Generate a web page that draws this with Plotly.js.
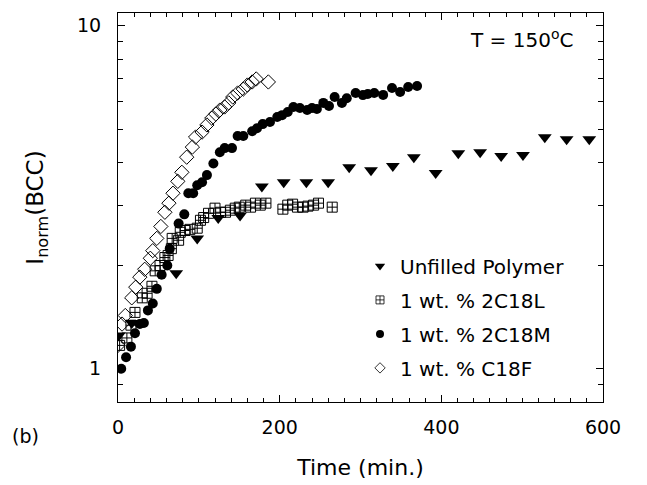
<!DOCTYPE html>
<html>
<head>
<meta charset="utf-8">
<script src="https://cdn.plot.ly/plotly-3.0.1.min.js"></script>
<style>html,body{margin:0;padding:0;background:#fff;}#chart{width:647px;height:485px;}</style>
</head>
<body>
<div id="chart"></div>
<script>
// ---- Data ----
const seriesNames = ["Unfilled Polymer", "1 wt. % 2C18L", "1 wt. % 2C18M", "1 wt. % C18F"];

const unfilledT = [1, 17, 72, 98, 124, 151, 178, 205, 233, 260, 286, 313, 340, 366, 393, 421, 448, 474, 501, 528, 555, 583];
const unfilledV = [1.25, 1.36, 1.90, 2.40, 2.75, 2.80, 3.40, 3.50, 3.50, 3.50, 3.87, 3.79, 3.90, 4.14, 3.72, 4.25, 4.28, 4.17, 4.20, 4.73, 4.67, 4.67];

const c2c18lT = [2, 11, 16, 21, 30, 36, 42, 46, 52, 58, 62, 66, 67, 75, 77, 83, 89, 98, 102, 106, 112, 120, 127, 133, 139, 145, 150, 158, 164, 170, 176, 183, 204, 210, 216, 222, 229, 235, 242, 248, 265];
const c2c18lV = [1.17, 1.23, 1.34, 1.46, 1.61, 1.66, 1.74, 1.93, 2.00, 2.11, 2.14, 2.24, 2.40, 2.37, 2.50, 2.53, 2.55, 2.57, 2.71, 2.76, 2.84, 2.94, 2.86, 2.86, 2.90, 2.94, 2.96, 3.00, 2.96, 3.04, 3.00, 3.04, 2.92, 3.00, 3.02, 2.96, 2.96, 2.98, 3.00, 3.04, 2.96];

const c2c18mT = [4, 10, 16, 21, 27, 32, 37, 43, 48, 54, 61, 64, 75, 82, 87, 93, 98, 104, 110, 118, 126, 132, 141, 148, 155, 166, 172, 179, 188, 197, 203, 210, 217, 225, 234, 240, 246, 254, 261, 268, 277, 283, 294, 303, 309, 317, 328, 339, 349, 359, 370];
const c2c18mV = [1.00, 1.08, 1.16, 1.27, 1.35, 1.36, 1.48, 1.55, 1.71, 1.88, 2.00, 2.24, 2.65, 2.82, 3.25, 3.25, 3.43, 3.50, 3.67, 3.97, 4.28, 4.40, 4.40, 4.77, 4.77, 4.93, 5.03, 5.17, 5.24, 5.42, 5.49, 5.61, 5.80, 5.76, 5.68, 5.76, 5.72, 5.96, 5.84, 6.20, 5.96, 6.15, 6.37, 6.28, 6.33, 6.37, 6.29, 6.59, 6.41, 6.63, 6.68];

const c18fT = [0, 5, 9, 17, 22, 27, 33, 40, 43, 48, 53, 58, 63, 68, 74, 79, 85, 92, 96, 104, 110, 116, 121, 126, 132, 137, 142, 148, 155, 160, 166, 171, 186];
const c18fV = [1.17, 1.35, 1.43, 1.61, 1.73, 1.85, 1.95, 2.10, 2.21, 2.40, 2.60, 2.86, 3.04, 3.25, 3.52, 3.74, 4.14, 4.43, 4.74, 4.90, 5.14, 5.38, 5.53, 5.68, 5.80, 5.96, 6.20, 6.37, 6.54, 6.72, 6.86, 7.00, 6.86];

const xTickVals = [0, 200, 400, 600];
const xTickText = ["0", "200", "400", "600"];
const yTickVals = [1, 10];
const yTickText = ["1", "10"];
const yMinorVals = [0.9, 2, 3, 4, 5, 6, 7, 8, 9];

// ---- Styles ----
const FONT = "DejaVu Sans, Liberation Sans, Arial, sans-serif";
const styles = [
  {symbol: "triangle-down", size: 12, color: "black", line: {width: 0}},
  {symbol: "square-cross-open", size: 10, color: "black", line: {width: 1, color: "black"}},
  {symbol: "circle", size: 10, color: "black", line: {width: 0}},
  {symbol: "diamond-open", size: 11, color: "black", line: {width: 1, color: "black"}}
];
const legendSizes = [9, 8, 8, 8];
const xs = [unfilledT, c2c18lT, c2c18mT, c18fT];
const ys = [unfilledV, c2c18lV, c2c18mV, c18fV];

const traces = [];
for (let i = 0; i < 4; i++) {
  traces.push({
    x: xs[i], y: ys[i], type: "scatter", mode: "markers", name: seriesNames[i],
    showlegend: false, marker: styles[i], hoverinfo: "x+y"
  });
}
// legend-only entries with the smaller symbols used in the reference legend
for (let i = 0; i < 4; i++) {
  traces.push({
    x: [null], y: [null], type: "scatter", mode: "markers", name: seriesNames[i],
    legendgroup: "g" + i, showlegend: true,
    marker: Object.assign({}, styles[i], {size: legendSizes[i], line: Object.assign({}, styles[i].line, {width: styles[i].line.width ? 0.8 : 0})})
  });
}

const layout = {
  width: 647, height: 485,
  margin: {l: 118, r: 44, t: 13, b: 83},
  paper_bgcolor: "white", plot_bgcolor: "white",
  font: {family: FONT, color: "black", size: 19},
  showlegend: true,
  legend: {
    x: 0.499, y: 0.40, xanchor: "left", yanchor: "top",
    bgcolor: "rgba(0,0,0,0)", borderwidth: 0,
    font: {family: FONT, size: 20, color: "black"},
    traceorder: "grouped", tracegroupgap: 5, itemwidth: 30
  },
  xaxis: {
    range: [0, 600], tickmode: "array", tickvals: xTickVals, ticktext: xTickText,
    ticks: "inside", ticklen: 7, tickwidth: 1, tickcolor: "black",
    minor: {tickmode: "linear", tick0: 0, dtick: 20, ticks: "inside", ticklen: 4, tickcolor: "black", tickwidth: 1},
    showline: true, linecolor: "black", linewidth: 1, mirror: "ticks",
    showgrid: false, zeroline: false, ticklabelstandoff: 8,
    tickfont: {family: FONT, size: 19},
    title: {text: "Time (min.)", font: {family: FONT, size: 22}, standoff: 22}
  },
  yaxis: {
    type: "log", range: [Math.log10(0.8), Math.log10(10.9)],
    tickmode: "array", tickvals: yTickVals, ticktext: yTickText,
    ticks: "inside", ticklen: 7, tickwidth: 1, tickcolor: "black",
    minor: {tickmode: "array", tickvals: yMinorVals, ticks: "inside", ticklen: 5, tickcolor: "black", tickwidth: 1, showgrid: false},
    showline: true, linecolor: "black", linewidth: 1, mirror: "ticks",
    showgrid: false, zeroline: false, ticklabelstandoff: 12,
    tickfont: {family: FONT, size: 19},
    title: {text: "I<sub>norm</sub>(BCC)", font: {family: FONT, size: 23}, standoff: 26}
  },
  annotations: [
    {xref: "paper", yref: "paper", x: 0.831, y: 0.932, xanchor: "center", yanchor: "middle",
     text: "T = 150<sup>o</sup>C", showarrow: false, font: {family: FONT, size: 20, color: "black"}},
    {xref: "paper", yref: "paper", x: -0.222, y: -0.087, xanchor: "left", yanchor: "middle",
     text: "(b)", showarrow: false, font: {family: FONT, size: 19, color: "black"}}
  ]
};

Plotly.newPlot("chart", traces, layout, {staticPlot: true, displayModeBar: false});
</script>
</body>
</html>
